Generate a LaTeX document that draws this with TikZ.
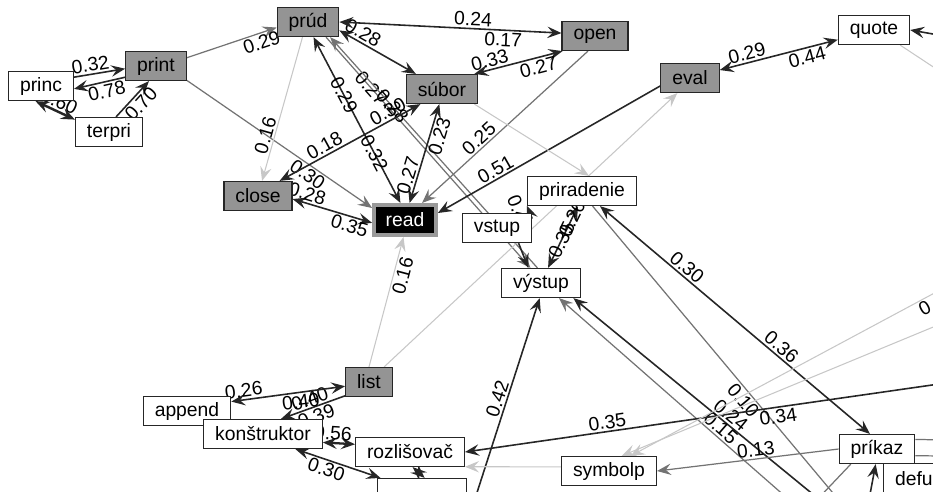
\documentclass[tikz,border=0pt]{standalone}
\usepackage{fontspec}
\setmainfont{Liberation Sans}
\usetikzlibrary{arrows.meta}
\pgfdeclarelayer{bg}
\pgfsetlayers{bg,main}

\begin{document}
\begin{tikzpicture}[x=0.02cm, y=-0.02cm,
    >={Stealth[length=8pt,width=6.5pt,inset=3pt]},
    gn/.style={draw=black!85, fill=black!42, line width=0.7pt, minimum height=16.5pt,
      inner xsep=6.5pt, inner ysep=0pt, font=\fontsize{11}{13}\selectfont},
    wn/.style={gn, fill=white},
    dk/.style={draw=black!85, line width=0.9pt},
    md/.style={draw=black!55, line width=0.7pt},
    lt/.style={draw=black!22, line width=0.6pt},
    lab/.style={sloped, inner sep=1pt, font=\fontsize{11}{13}\selectfont}]
    \useasboundingbox (0,0) rectangle (933,491);
    \clip (0,0) rectangle (933,491);

    % uzly
    \node[wn] (princ) at (41,86) {princ};
    \node[wn] (terpri) at (109,132) {terpri};
    \node[gn] (print) at (156,66) {print};
    \node[gn] (prud) at (308,22) {prúd};
    \node[gn] (open) at (595,36) {open};
    \node[gn] (subor) at (442,89) {súbor};
    \node[gn] (close) at (258,196) {close};
    \node[gn, fill=black, text=white, draw=black!40, line width=2.4pt, minimum height=17pt] (read) at (405,220) {read};
    \node[gn] (eval) at (690,78) {eval};
    \node[wn] (quote) at (874,30) {quote};
    \node[wn] (prir) at (582,191) {priradenie};
    \node[wn] (vstup) at (497,228) {vstup};
    \node[wn] (vystup) at (541,283) {výstup};
    \node[gn] (list) at (369,382) {list};
    \node[wn] (append) at (187,411) {append};
    \node[wn] (konst) at (263,434) {konštruktor};
    \node[wn, minimum width=51pt] (nbot) at (422,493) {};
    \node[wn] (rozl) at (410,452) {rozlišovač};
    \node[wn] (symbolp) at (609,471) {symbolp};
    \node[wn, anchor=north west] (defun) at (883,463) {defun};
    \node[wn] (prikaz) at (877,449) {príkaz};

    % konce mimo obrazu
    \coordinate (qr) at (950,37);
    \coordinate (qd) at (950,78);
    \coordinate (ra) at (960,381);
    \coordinate (rb) at (955,282);
    \coordinate (rc) at (955,318);
    \coordinate (pb) at (843,505);
    \coordinate (vb) at (473,505);
    \coordinate (va) at (826,505);
    \coordinate (vc) at (795,505);
    \coordinate (kb) at (868,505);
    \coordinate (kl) at (812,505);
    \coordinate (ka) at (950,440);
    \coordinate (kc) at (950,456);

    \begin{pgfonlayer}{bg}
    \clip (0,0) rectangle (933,491);
    % vlavo hore
    \draw[dk,->] (princ.15) -- node[lab,above,pos=.35]{0.32} (print.185);
    \draw[dk,->] (print.200) -- node[lab,below,pos=.4]{0.78} (princ.-5);
    \draw[dk,line width=1.4pt,<->] (princ.-110) -- node[lab,pos=.5,above]{0.60} (terpri.160);
    \draw[dk,->] (terpri.65) -- node[lab,pos=.55,below]{0.70} (print.-115);
    \draw[md,->] (print.15) -- node[lab,below,pos=.8]{0.29} (prud.190);
    \draw[md,->] (print.-25) -- node[lab,below,pos=.68]{0.30} (read.160);

    % prud, subor, read
    \draw[lt,->] (prud.-110) -- node[lab,pos=.7,above]{0.16} (close.75);
    \draw[dk,<->] (prud.-70) -- node[lab,pos=.35]{0.29} node[lab,pos=.7]{0.32} (read.105);
    \draw[md,->] (prud.-40) -- node[lab,pos=.22]{0.27} (vystup.125);
    \draw[md,<-] ([xshift=4pt]prud.-45) -- node[lab,pos=.3]{0.28} ([xshift=4pt]vystup.125);
    \draw[dk,<->] (prud.-15) -- node[lab,pos=.25,above]{0.28} (subor.150);
    \draw[dk,<->] (prud.east) -- node[lab,pos=.6,above]{0.24} node[lab,pos=.74,below]{0.17} (open.175);
    \draw[dk,<->] (subor.25) -- node[lab,pos=.2,above]{0.33} node[lab,pos=.7,below]{0.27} (open.205);
    \draw[dk,<->] (subor.-145) -- node[lab,pos=.2,above]{0.30} node[lab,pos=.65,above]{0.18} (close.35);
    \draw[dk,<->] (close.-5) -- node[lab,pos=.15,above]{0.28} node[lab,pos=.75,below]{0.35} (read.185);
    \draw[dk,<->] (subor.-100) -- node[lab,pos=.3,below]{0.23} node[lab,pos=.75,above]{0.27} (read.75);
    \draw[md,->] (open.-115) -- node[lab,pos=.62,above]{0.25} (read.45);
    \draw[dk,->] (eval.-165) -- node[lab,pos=.72,above]{0.51} (read.12);

    % vpravo hore
    \draw[dk,<->] (eval.15) -- node[lab,pos=.25,above]{0.29} node[lab,pos=.72,below]{0.44} (quote.195);
    \draw[dk,->] (qr) -- (quote.east);
    \draw[lt] (quote.-30) -- (qd);
    \draw[lt,->] (list.45) -- (eval.-130);
    \draw[lt,->] (list.north) -- node[lab,pos=.72,below]{0.16} (read.-95);
    \draw[lt,->] (subor.-25) -- (prir.65);

    % priradenie, vstup, vystup
    \draw[dk,->] (vstup.15) -- node[lab,pos=.7,below]{0.41} (prir.-165);
    \draw[dk,->] (vstup.-35) -- (vystup.130);
    \draw[dk,<->] (prir.-105) -- node[lab,pos=.2]{0.26} node[lab,pos=.55]{0.35} (vystup.65);
    \draw[dk,<->] (prir.-40) -- node[lab,pos=.3,above]{0.30} node[lab,pos=.65,above]{0.36} (prikaz.115);
    \draw[md] (prir.-55) -- node[lab,pos=.63,below]{0.10} (pb);
    \draw[dk,<-] (vystup.-95) -- node[lab,pos=.5,above]{0.42} (vb);
    \draw[dk,<-] (vystup.-25) -- node[lab,pos=.6,above]{0.24} (va);
    \draw[md,<-] (vystup.-40) -- node[lab,pos=.66,above]{0.15} (vc);

    % dole
    \draw[dk,<->] (rozl.east) -- node[lab,pos=.29,above]{0.35} node[lab,pos=.63,below]{0.34} (ra);
    \draw[md,->] (prikaz.west) -- node[lab,pos=.45,above]{0.13} (symbolp.east);
    \draw[md] (prikaz.14) -- (ka);
    \draw[md] (prikaz.-10) -- (kc);
    \draw[dk,->] (kb) -- (prikaz.-95);
    \draw[md] (prikaz.-150) -- (kl);
    \draw[lt,->] (rb) -- node[lab,pos=.07,below]{0.22} (symbolp.35);
    \draw[lt,->] (rc) -- (symbolp.50);
    \draw[lt,->] (symbolp.175) -- (rozl.-15);
    \draw[dk,line width=1.3pt,<->] (konst.-8) -- node[lab,pos=.3,above]{0.56} (rozl.172);
    \draw[dk,->] (list.-150) -- node[lab,pos=.5,above]{0.40} node[lab,pos=.5,below]{0.39} (konst.40);
    \draw[dk,<->] (append.12) -- node[lab,pos=.12,above]{0.26} node[lab,pos=.6,below]{0.40} (list.190);
    \draw[dk,<->] (konst.-25) -- node[lab,pos=.4,below]{0.30} (nbot.160);
    \draw[dk,<->] (rozl.-80) -- (nbot.80);
    \end{pgfonlayer}
\end{tikzpicture}
\end{document}
